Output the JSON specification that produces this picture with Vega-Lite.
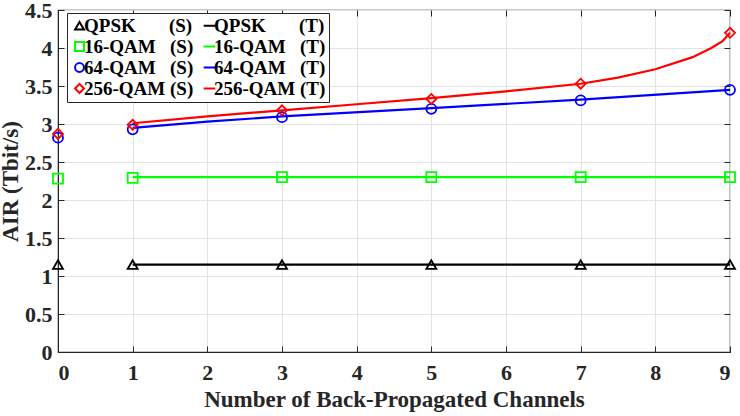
{
  "$schema": "https://vega.github.io/schema/vega-lite/v6.json",
  "autosize": {"type": "none"},
  "width": 672,
  "height": 342,
  "padding": {"left": 58, "top": 10, "right": 10, "bottom": 64},
  "background": "white",
  "config": {
    "font": "Liberation Serif",
    "view": {"stroke": "#262626", "strokeWidth": 1.2},
    "axis": {
      "labelFont": "Liberation Serif", "labelFontWeight": "bold", "labelFontSize": 22, "labelColor": "#262626",
      "titleFont": "Liberation Serif", "titleFontWeight": "bold", "titleFontSize": 23, "titleColor": "#262626",
      "domainColor": "#262626", "tickColor": "#262626", "gridColor": "#e3e3e3", "gridWidth": 1,
      "tickSize": -6, "labelPadding": 12
    }
  },
  "data": {"values": [
    {"x": 0, "y": 1.15, "series": "QPSK (S)", "kind": "S"},
    {"x": 1, "y": 1.15, "series": "QPSK (S)", "kind": "S"},
    {"x": 3, "y": 1.15, "series": "QPSK (S)", "kind": "S"},
    {"x": 5, "y": 1.15, "series": "QPSK (S)", "kind": "S"},
    {"x": 7, "y": 1.15, "series": "QPSK (S)", "kind": "S"},
    {"x": 9, "y": 1.15, "series": "QPSK (S)", "kind": "S"},
    {"x": 0, "y": 2.28, "series": "16-QAM (S)", "kind": "S"},
    {"x": 1, "y": 2.29, "series": "16-QAM (S)", "kind": "S"},
    {"x": 3, "y": 2.30, "series": "16-QAM (S)", "kind": "S"},
    {"x": 5, "y": 2.30, "series": "16-QAM (S)", "kind": "S"},
    {"x": 7, "y": 2.30, "series": "16-QAM (S)", "kind": "S"},
    {"x": 9, "y": 2.30, "series": "16-QAM (S)", "kind": "S"},
    {"x": 0, "y": 2.82, "series": "64-QAM (S)", "kind": "S"},
    {"x": 1, "y": 2.93, "series": "64-QAM (S)", "kind": "S"},
    {"x": 3, "y": 3.09, "series": "64-QAM (S)", "kind": "S"},
    {"x": 5, "y": 3.20, "series": "64-QAM (S)", "kind": "S"},
    {"x": 7, "y": 3.31, "series": "64-QAM (S)", "kind": "S"},
    {"x": 9, "y": 3.45, "series": "64-QAM (S)", "kind": "S"},
    {"x": 0, "y": 2.87, "series": "256-QAM (S)", "kind": "S"},
    {"x": 1, "y": 2.99, "series": "256-QAM (S)", "kind": "S"},
    {"x": 3, "y": 3.18, "series": "256-QAM (S)", "kind": "S"},
    {"x": 5, "y": 3.33, "series": "256-QAM (S)", "kind": "S"},
    {"x": 7, "y": 3.53, "series": "256-QAM (S)", "kind": "S"},
    {"x": 9, "y": 4.20, "series": "256-QAM (S)", "kind": "S"},
    {"x": 1, "y": 1.15, "series": "QPSK (T)", "kind": "T"},
    {"x": 9, "y": 1.15, "series": "QPSK (T)", "kind": "T"},
    {"x": 1, "y": 2.30, "series": "16-QAM (T)", "kind": "T"},
    {"x": 9, "y": 2.30, "series": "16-QAM (T)", "kind": "T"},
    {"x": 1, "y": 2.95, "series": "64-QAM (T)", "kind": "T"},
    {"x": 2, "y": 3.03, "series": "64-QAM (T)", "kind": "T"},
    {"x": 3, "y": 3.10, "series": "64-QAM (T)", "kind": "T"},
    {"x": 5, "y": 3.21, "series": "64-QAM (T)", "kind": "T"},
    {"x": 7, "y": 3.32, "series": "64-QAM (T)", "kind": "T"},
    {"x": 9, "y": 3.45, "series": "64-QAM (T)", "kind": "T"},
    {"x": 1, "y": 3.01, "series": "256-QAM (T)", "kind": "T"},
    {"x": 2, "y": 3.10, "series": "256-QAM (T)", "kind": "T"},
    {"x": 3, "y": 3.18, "series": "256-QAM (T)", "kind": "T"},
    {"x": 4, "y": 3.26, "series": "256-QAM (T)", "kind": "T"},
    {"x": 5, "y": 3.34, "series": "256-QAM (T)", "kind": "T"},
    {"x": 6, "y": 3.43, "series": "256-QAM (T)", "kind": "T"},
    {"x": 7, "y": 3.53, "series": "256-QAM (T)", "kind": "T"},
    {"x": 7.5, "y": 3.61, "series": "256-QAM (T)", "kind": "T"},
    {"x": 8, "y": 3.72, "series": "256-QAM (T)", "kind": "T"},
    {"x": 8.5, "y": 3.88, "series": "256-QAM (T)", "kind": "T"},
    {"x": 8.75, "y": 4.0, "series": "256-QAM (T)", "kind": "T"},
    {"x": 8.9, "y": 4.09, "series": "256-QAM (T)", "kind": "T"},
    {"x": 9, "y": 4.20, "series": "256-QAM (T)", "kind": "T"}
  ]},
  "encoding": {
    "color": {"field": "series", "type": "nominal",
      "scale": {
        "domain": ["QPSK (S)", "QPSK (T)", "16-QAM (S)", "16-QAM (T)", "64-QAM (S)", "64-QAM (T)", "256-QAM (S)", "256-QAM (T)"],
        "range": ["#000000", "#000000", "#00ff00", "#00ff00", "#0000ff", "#0000ff", "#ff0000", "#ff0000"]
      },
      "legend": {
        "title": null, "orient": "none", "legendX": 9, "legendY": 3, "columns": 2, "direction": "horizontal",
        "strokeColor": "#262626", "fillColor": "white", "padding": 3, "columnPadding": 5, "rowPadding": 1,
        "labelFont": "Liberation Serif", "labelFontWeight": "bold", "labelFontSize": 19, "labelColor": "#000",
        "labelLimit": 300, "symbolSize": 80, "symbolStrokeWidth": 2, "symbolFillColor": "transparent", "labelOffset": -5,
        "labelExpr": "replace(datum.label, ' (', substring(datum.label, 0, 4) == 'QPSK' ? '\u00a0\u00a0\u00a0\u00a0\u00a0\u00a0\u00a0(' : (substring(datum.label, 0, 3) == '256' ? '\u00a0(' : '\u00a0\u00a0\u00a0('))"
      }
    }
  },
  "layer": [
    {
      "transform": [{"filter": "datum.kind == 'T'"}],
      "mark": {"type": "line", "strokeWidth": 2.2},
      "encoding": {
        "x": {"field": "x", "type": "quantitative", "scale": {"domain": [0, 9], "nice": false},
          "axis": {"title": "Number of Back-Propagated Channels", "values": [0,1,2,3,4,5,6,7,8,9], "titlePadding": 5, "labelPadding": 16}},
        "y": {"field": "y", "type": "quantitative", "scale": {"domain": [0, 4.5], "nice": false},
          "axis": {"title": "AIR (Tbit/s)", "values": [0,0.5,1,1.5,2,2.5,3,3.5,4,4.5], "format": "~g", "titlePadding": 2}},
        "detail": {"field": "series"}
      }
    },
    {
      "transform": [{"filter": "datum.kind == 'S'"}],
      "mark": {"type": "point", "filled": false, "strokeWidth": 1.8, "size": 100, "opacity": 1},
      "encoding": {
        "x": {"field": "x", "type": "quantitative",
          "axis": {"orient": "top", "title": null, "labels": false, "grid": false, "domain": false, "values": [0,1,2,3,4,5,6,7,8,9]}},
        "y": {"field": "y", "type": "quantitative",
          "axis": {"orient": "right", "title": null, "labels": false, "grid": false, "domain": false, "values": [0,0.5,1,1.5,2,2.5,3,3.5,4,4.5]}},
        "shape": {"field": "series", "type": "nominal",
          "scale": {
            "domain": ["QPSK (S)", "QPSK (T)", "16-QAM (S)", "16-QAM (T)", "64-QAM (S)", "64-QAM (T)", "256-QAM (S)", "256-QAM (T)"],
            "range": ["triangle-up", "M-1.3,0L1.3,0", "square", "M-1.3,0L1.3,0", "circle", "M-1.3,0L1.3,0", "diamond", "M-1.3,0L1.3,0"]
          }
        }
      }
    }
  ],
  "resolve": {"axis": {"x": "independent", "y": "independent"}}
}
